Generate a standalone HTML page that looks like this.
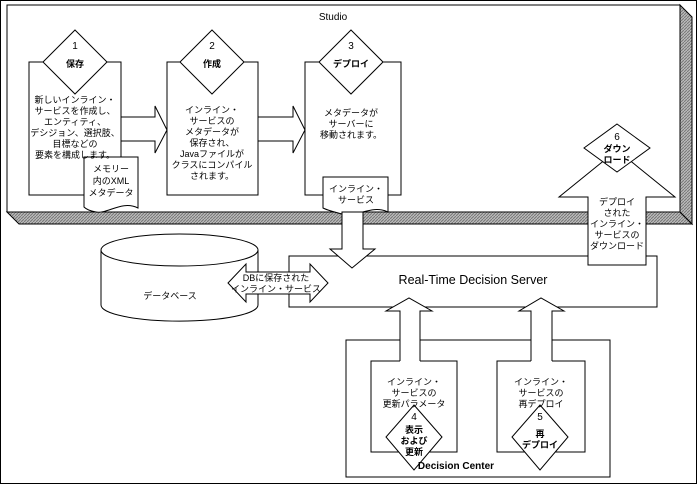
<!DOCTYPE html>
<html><head><meta charset="utf-8"><style>
body{margin:0;background:#fff}
svg{display:block}
text{font-family:"Liberation Sans","Noto Sans CJK JP",sans-serif;font-size:9px;fill:#000}
.b{font-weight:bold}
.l{font-size:10px}
</style></head><body>
<svg width="697" height="484" viewBox="0 0 697 484" xmlns="http://www.w3.org/2000/svg">
<defs><pattern id="h" width="3" height="3" patternUnits="userSpaceOnUse"><rect width="3" height="3" fill="#bbb"/><path d="M0,3L3,0" stroke="#777" stroke-width="1"/></pattern></defs>
<rect x="0.5" y="0.5" width="696" height="483" fill="#fff" stroke="#000"/>
<polygon points="7,212 680,212 692,224 19,224" fill="url(#h)" stroke="#000"/>
<polygon points="680,5 692,17 692,224 680,212" fill="url(#h)" stroke="#000"/>
<rect x="7" y="5" width="673" height="207" fill="#fff" stroke="#000"/>
<text x="333" y="20" text-anchor="middle" class="l">Studio</text>
<g fill="#fff" stroke="#000">
<polygon points="115,117 155,117 155,106 167,130 155,153 155,141 115,141"/>
<polygon points="252,117 293,117 293,106 305,130 293,153 293,141 252,141"/>
<rect x="29" y="62" width="92" height="133"/>
<rect x="167" y="62" width="91" height="133"/>
<rect x="305" y="62" width="96" height="133"/>
<polygon points="75,30 107,62 75,94 43,62"/>
<polygon points="212,30 244,62 212,94 180,62"/>
<polygon points="351,30 383,62 351,94 319,62"/>
<path d="M84,157 H138 V208 C122,200 108,214 96,212 C90,211 86,209 84,207 Z"/>
<path d="M323,177 H388 V212 C372,204 356,218 342,214 C334,212 327,210 323,208 Z"/>
</g>
<g text-anchor="middle">
<text x="75" y="49" class="l">1</text><text x="75" y="67" class="b">保存</text>
<text x="212" y="49" class="l">2</text><text x="212" y="67" class="b">作成</text>
<text x="351" y="49" class="l">3</text><text x="351" y="67" class="b">デプロイ</text>
<text x="75" y="103">新しいインライン・</text>
<text x="75" y="114">サービスを作成し、</text>
<text x="75" y="125">エンティティ、</text>
<text x="75" y="136">デシジョン、選択肢、</text>
<text x="75" y="147">目標などの</text>
<text x="75" y="158">要素を構成します。</text>
<text x="111" y="172">メモリー</text>
<text x="111" y="184">内のXML</text>
<text x="111" y="196">メタデータ</text>
<text x="212" y="113">インライン・</text>
<text x="212" y="124">サービスの</text>
<text x="212" y="135">メタデータが</text>
<text x="212" y="146">保存され、</text>
<text x="212" y="157">Javaファイルが</text>
<text x="212" y="168">クラスにコンパイル</text>
<text x="212" y="179">されます。</text>
<text x="351" y="116">メタデータが</text>
<text x="351" y="127">サーバーに</text>
<text x="351" y="138">移動されます。</text>
<text x="356" y="192">インライン・</text>
<text x="356" y="203">サービス</text>
</g>
<rect x="289" y="256" width="368" height="51" fill="#fff" stroke="#000"/>
<text x="473" y="284" text-anchor="middle" style="font-size:12.5px">Real-Time Decision Server</text>
<g fill="#fff" stroke="#000">
<polygon points="342,212 363,212 363,249 375,249 352,268 330,249 342,249"/>
<polygon points="588,265 646,265 646,197 675,197 617,150 559,197 588,197"/>
<polygon points="617,124 650,148 617,172 584,148"/>
<path d="M101,250 V305 A78,16 0 0 0 258,305 V250"/>
<ellipse cx="179.5" cy="250" rx="78.5" ry="16"/>
<polygon points="228,283 246,264 246,272 310,272 310,264 328,283 310,302 310,294 246,294 246,302"/>
<rect x="346" y="340" width="264" height="137"/>
<path d="M400,361 H371 V452 H457 V361 H420"/>
<path d="M531,361 H497 V452 H585 V361 H552"/>
<polyline points="400,361 400,311 386,311 409,298 432,311 420,311 420,361"/>
<polyline points="531,361 531,311 519,311 541,298 564,311 552,311 552,361"/>
<polygon points="414,405 442,437 414,470 386,437"/>
<polygon points="540,405 568,437 540,470 512,437"/>
</g>
<g text-anchor="middle">
<text x="617" y="140" class="l">6</text>
<text x="617" y="152" class="b">ダウン</text>
<text x="617" y="163" class="b">ロード</text>
<text x="617" y="205">デプロイ</text>
<text x="617" y="216">された</text>
<text x="617" y="227">インライン・</text>
<text x="617" y="238">サービスの</text>
<text x="617" y="249">ダウンロード</text>
<text x="170" y="299">データベース</text>
<text x="276" y="281">DBに保存された</text>
<text x="276" y="292">インライン・サービス</text>
<text x="414" y="385">インライン・</text>
<text x="414" y="396">サービスの</text>
<text x="414" y="407">更新パラメータ</text>
<text x="541" y="385">インライン・</text>
<text x="541" y="396">サービスの</text>
<text x="541" y="407">再デプロイ</text>
<text x="414" y="420" class="l">4</text>
<text x="414" y="433" class="b">表示</text>
<text x="414" y="444" class="b">および</text>
<text x="414" y="455" class="b">更新</text>
<text x="540" y="420" class="l">5</text>
<text x="540" y="437" class="b">再</text>
<text x="540" y="448" class="b">デプロイ</text>
<text x="456" y="469" class="b l">Decision Center</text>
</g>
</svg>
</body></html>
